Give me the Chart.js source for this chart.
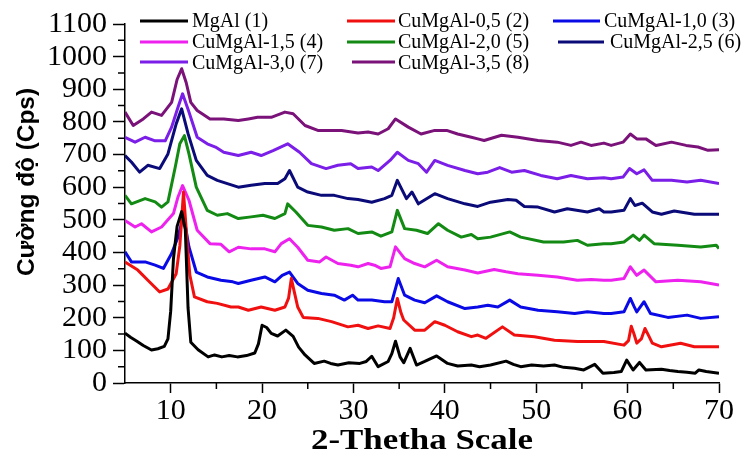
<!DOCTYPE html>
<html><head><meta charset="utf-8">
<script src="https://cdn.jsdelivr.net/npm/chart.js@4.4.1/dist/chart.umd.min.js"></script>
<style>html,body{margin:0;padding:0;background:#fff}#wrap{width:745px;height:454px}</style>
</head><body><div id="wrap"><canvas id="c" width="745" height="454"></canvas></div>
<script>
const seriesLabels = ['MgAl (1)','CuMgAl-0,5 (2)','CuMgAl-1,0 (3)','CuMgAl-1,5 (4)','CuMgAl-2,0 (5)','CuMgAl-2,5 (6)','CuMgAl-3,0 (7)','CuMgAl-3,5 (8)'];
const seriesColors = ['#000000','#f01010','#0a0ae6','#ee22ee','#138a13','#0a0a78','#7a1ee8','#7a127a'];
const xTicks = [10,20,30,40,50,60,70];
const xMinorTicks = [15,25,35,45,55,65];
const yTicks = [0,100,200,300,400,500,600,700,800,900,1000,1100];
const yMinorTicks = [50,150,250,350,450,550,650,750,850,950,1050];
const xTitle = '2-Thetha Scale';
const yTitle = 'Cường độ (Cps)';

const mgAl = [[5,153],[5.6,140],[6.3,128],[7,115],[7.9,101],[8.6,105],[9.3,112],[9.7,135],[10.0,220],[10.3,380],[10.7,480],[11.2,525],[11.6,470],[11.9,230],[12.2,125],[13,102],[14.1,80],[14.8,86],[15.6,80],[16.4,84],[17.3,80],[18.3,84],[19.2,92],[19.6,120],[20,177],[20.5,170],[21,152],[21.7,144],[22.6,162],[23.4,143],[24,110],[24.7,86],[25.7,60],[26.8,67],[27.5,60],[28.3,55],[29.5,62],[30.7,60],[31.4,66],[32,82],[32.7,50],[33.8,66],[34.2,90],[34.6,128],[35.1,80],[35.5,62],[36.2,106],[36.9,55],[37.8,66],[39.1,83],[40.3,60],[41.4,52],[42.9,55],[43.8,50],[45,55],[46.7,67],[47.5,57],[48.3,50],[49.5,55],[50.8,52],[52,55],[53,48],[54.2,45],[55.2,40],[56.4,57],[57.3,30],[58.5,32],[59.3,35],[59.9,70],[60.6,40],[61.3,63],[62,40],[63.7,42],[64.6,38],[65.5,35],[66.5,33],[67.4,30],[67.8,40],[68.6,35],[70,30]];
const cuMgAl05 = [[5,371],[6.4,346],[7.5,315],[8.8,279],[9.7,288],[10.6,335],[11.0,420],[11.4,585],[11.8,430],[12.1,330],[12.6,264],[14,249],[15.1,244],[16.6,233],[17.4,233],[18.5,223],[19.9,233],[21.4,223],[22.5,233],[22.9,260],[23.2,320],[23.6,270],[23.9,233],[24.5,201],[26.1,198],[27.6,188],[29.4,172],[30.5,177],[31.6,167],[32.7,175],[34,167],[34.4,200],[34.8,259],[35.2,215],[35.5,193],[36.7,162],[37.8,162],[38.9,188],[40,177],[41.4,157],[42.9,142],[43.6,147],[44.5,137],[46.3,172],[47.6,147],[49.8,142],[52,131],[54.5,127],[57.4,127],[59.6,116],[60.1,130],[60.4,174],[60.7,150],[61,122],[61.5,135],[61.9,167],[62.3,145],[62.7,122],[63.7,111],[65.8,122],[67.3,111],[70,111]];
const cuMgAl10 = [[5,402],[5.7,371],[7.2,371],[8.3,361],[9.2,351],[10.1,397],[10.8,447],[11.4,514],[12,417],[12.8,340],[14,325],[15.5,315],[16.8,310],[17.4,305],[18.8,315],[20.3,325],[21.4,310],[22.2,330],[23,340],[23.9,305],[25,284],[26.5,274],[27.9,269],[29,254],[29.9,269],[30.5,254],[32,254],[33.4,249],[34.2,249],[34.9,320],[35.6,269],[36.7,254],[37.8,246],[39.1,267],[40.3,249],[42.2,228],[43.6,233],[44.7,238],[45.8,233],[47.1,254],[48.3,233],[50.2,223],[52.3,218],[54.2,213],[55.6,218],[57.4,213],[58.2,213],[59.6,218],[60.3,259],[60.7,235],[61,218],[61.8,249],[62.5,213],[64.4,201],[66.5,208],[68,198],[70,203]];
const cuMgAl15 = [[5,498],[6.1,478],[6.8,488],[7.9,463],[9,478],[10.3,519],[10.8,570],[11.3,605],[12,560],[12.9,468],[14.3,427],[15.5,425],[16.4,402],[17.4,416],[18.8,411],[20.3,411],[21.4,402],[22.1,427],[23,442],[23.9,416],[25,376],[26.3,371],[27,386],[28.3,366],[29.7,361],[30.5,356],[31.6,366],[32.3,361],[33,351],[34,356],[34.6,417],[35.6,381],[36.7,366],[37.8,356],[39.1,376],[40.3,356],[42.2,346],[43.6,337],[45.4,348],[46.7,341],[48,335],[50.2,330],[52.3,325],[54.5,315],[56,317],[57.4,315],[58.2,315],[59.6,320],[60.3,356],[61,330],[61.8,346],[63.1,310],[65.5,315],[68,310],[70,300]];
const cuMgAl20 = [[5,575],[5.7,549],[7.2,565],[8.3,555],[9,539],[9.7,555],[10.5,662],[11,733],[11.5,758],[12,702],[12.8,600],[14,529],[15.1,514],[16.2,519],[17.4,504],[18.8,509],[20.1,514],[21.4,504],[22.5,519],[22.8,549],[23.7,524],[25,483],[26.5,478],[27.9,468],[29.4,473],[30.5,458],[32,463],[33,450],[34.2,463],[34.8,529],[35.6,473],[36.9,468],[38.1,458],[39.3,488],[40.3,468],[41.8,447],[42.9,455],[43.6,442],[45,447],[47.1,463],[48.3,447],[50.8,432],[53,432],[54.5,437],[55.6,422],[57.4,427],[58.2,427],[59.6,432],[60.6,453],[61.3,437],[61.8,453],[62.9,427],[65.5,422],[68,417],[69.7,422],[70,412]];
const cuMgAl25 = [[5,697],[5.7,677],[6.6,646],[7.5,667],[8.8,657],[9.7,702],[10.6,794],[11.2,840],[11.9,764],[12.8,682],[14,636],[15.1,621],[16.2,611],[17.4,600],[18.8,606],[20.3,611],[21.7,611],[22.5,626],[23,651],[23.9,600],[25,585],[26.5,575],[27.9,575],[29.4,565],[30.5,562],[32,554],[33.4,565],[34.2,575],[34.8,621],[35.8,565],[36.4,585],[37.1,549],[38.9,580],[40.3,565],[42.2,549],[43.6,541],[45,554],[46.9,562],[47.8,560],[48.7,541],[50.2,539],[52,524],[53.4,534],[55.6,524],[56.9,534],[57.4,524],[58.2,524],[59.6,529],[60.3,565],[60.8,544],[61.6,551],[62.7,524],[63.7,517],[65.1,527],[67.3,517],[70,517]];
const cuMgAl30 = [[5,753],[6.1,738],[7.2,753],[8.3,742],[9.4,742],[10.1,784],[10.8,845],[11.3,886],[12,830],[12.9,753],[14,733],[14.9,723],[15.8,707],[17.4,697],[18.8,707],[19.9,697],[21.2,712],[22.8,733],[24.1,707],[25.4,672],[27,657],[28.3,667],[29.7,672],[30.5,657],[32,662],[32.7,651],[34,682],[34.8,707],[36,682],[37.1,672],[38,646],[38.9,682],[40.3,667],[42.2,651],[43.6,641],[44.7,646],[46,660],[47.3,646],[48.7,651],[50.5,636],[52.3,626],[53.8,636],[55.6,626],[57.4,629],[58.2,626],[59.5,631],[60.2,657],[61,641],[61.8,653],[62.7,621],[64.8,621],[66.5,616],[68,621],[70,611]];
const cuMgAl35 = [[5,830],[5.9,789],[7,809],[7.9,830],[9,820],[10.1,860],[10.7,930],[11.2,963],[11.7,920],[12.2,860],[12.9,835],[14.3,809],[15.8,809],[17.4,804],[18.5,809],[19.5,814],[21,814],[22.5,830],[23.4,825],[24.7,789],[26.1,774],[27.6,774],[28.7,774],[30.5,766],[31.6,769],[32.7,763],[33.8,779],[34.6,809],[36,784],[37.4,763],[38.9,774],[40.2,774],[41.4,763],[42.9,753],[43.6,748],[44.3,743],[46.2,759],[48,753],[50.2,743],[52.3,738],[53.8,728],[54.9,738],[56,728],[57.4,735],[58.2,728],[59.5,738],[60.3,763],[61,748],[62,748],[63.1,728],[64.8,738],[66.4,728],[67.7,723],[68.8,713],[70,715]];

const seriesData = [mgAl, cuMgAl05, cuMgAl10, cuMgAl15, cuMgAl20, cuMgAl25, cuMgAl30, cuMgAl35];

const SERIF = '"Liberation Serif", "Times New Roman", Tinos, Times, serif';
const SANS = '"Liberation Sans", Arial, Helvetica, sans-serif';

// legend layout: [lineStart, lineEnd, textX, lineY, baselineY]
const legendSlots = [
  [140,188,192,21,27],[347,395,398,21,27],[553,600,604,21,27],
  [140,188,192,42,48],[347,395,398,42,48],[558,604,610,42,48],
  [140,188,192,62,69],[352,395,398,62,69]
];

const extras = {
  id: 'extras',
  afterDraw(chart) {
    const ctx = chart.ctx;
    const xs = chart.scales.x, ys = chart.scales.y;
    const area = chart.chartArea;
    ctx.save();
    ctx.strokeStyle = '#000';
    ctx.lineWidth = 1.5;
    ctx.beginPath();
    xMinorTicks.forEach(v => { const p = xs.getPixelForValue(v); ctx.moveTo(p, area.bottom); ctx.lineTo(p, area.bottom + 6); });
    yMinorTicks.forEach(v => { const p = ys.getPixelForValue(v); ctx.moveTo(area.left, p); ctx.lineTo(area.left - 7, p); });
    ctx.stroke();
    chart.data.datasets.forEach((ds, i) => {
      const s = legendSlots[i];
      ctx.strokeStyle = ds.borderColor;
      ctx.lineWidth = 3;
      ctx.beginPath(); ctx.moveTo(s[0], s[3]); ctx.lineTo(s[1], s[3]); ctx.stroke();
      ctx.fillStyle = '#000';
      ctx.font = '20px ' + SERIF;
      ctx.textAlign = 'left'; ctx.textBaseline = 'alphabetic';
      ctx.fillText(ds.label, s[2], s[4]);
    });
    ctx.save();
    ctx.translate(27, 182);
    ctx.rotate(-Math.PI / 2);
    ctx.font = 'bold 24px ' + SANS;
    const w = ctx.measureText(yTitle).width;
    ctx.scale(188 / w, 1);
    ctx.textAlign = 'center'; ctx.textBaseline = 'middle';
    ctx.fillStyle = '#000';
    ctx.fillText(yTitle, 0, 0);
    ctx.restore();
    ctx.save();
    ctx.font = 'bold 30px ' + SERIF;
    const w2 = ctx.measureText(xTitle).width;
    ctx.translate((area.left + area.right) / 2, 449);
    ctx.scale(222 / w2, 1);
    ctx.textAlign = 'center'; ctx.textBaseline = 'alphabetic';
    ctx.fillStyle = '#000';
    ctx.fillText(xTitle, 0, 0);
    ctx.restore();
    ctx.restore();
  }
};

new Chart(document.getElementById('c'), {
  type: 'scatter',
  data: {
    datasets: seriesData.map((d, i) => ({
      label: seriesLabels[i],
      data: d.map(p => ({x: p[0], y: p[1]})),
      showLine: true,
      borderColor: seriesColors[i],
      backgroundColor: seriesColors[i],
      borderWidth: 3,
      pointRadius: 0,
      tension: 0,
      borderJoinStyle: 'round'
    }))
  },
  options: {
    responsive: false,
    animation: false,
    layout: { padding: { top: 24, right: 26, left: 0, bottom: 0 } },
    plugins: { legend: { display: false }, tooltip: { enabled: false } },
    scales: {
      x: {
        type: 'linear', min: 5, max: 70,
        afterBuildTicks: s => { s.ticks = xTicks.map(v => ({ value: v })); },
        afterFit: s => { s.height = 71; },
        ticks: { font: { family: SERIF, size: 30 }, color: '#000', padding: 0, maxRotation: 0, autoSkip: false, callback: v => String(v) },
        grid: { drawOnChartArea: false, drawTicks: true, tickLength: 10, tickColor: '#000', tickWidth: 1.5 },
        border: { display: true, color: '#000', width: 1.5 }
      },
      y: {
        type: 'linear', min: 0, max: 1100,
        afterBuildTicks: s => { s.ticks = yTicks.map(v => ({ value: v })); },
        afterFit: s => { s.width = 125; },
        ticks: { font: { family: SERIF, size: 30 }, color: '#000', padding: 6, autoSkip: false, callback: v => String(v) },
        grid: { drawOnChartArea: false, drawTicks: true, tickLength: 12, tickColor: '#000', tickWidth: 1.5 },
        border: { display: true, color: '#000', width: 1.5 }
      }
    }
  },
  plugins: [extras]
});
</script></body></html>
